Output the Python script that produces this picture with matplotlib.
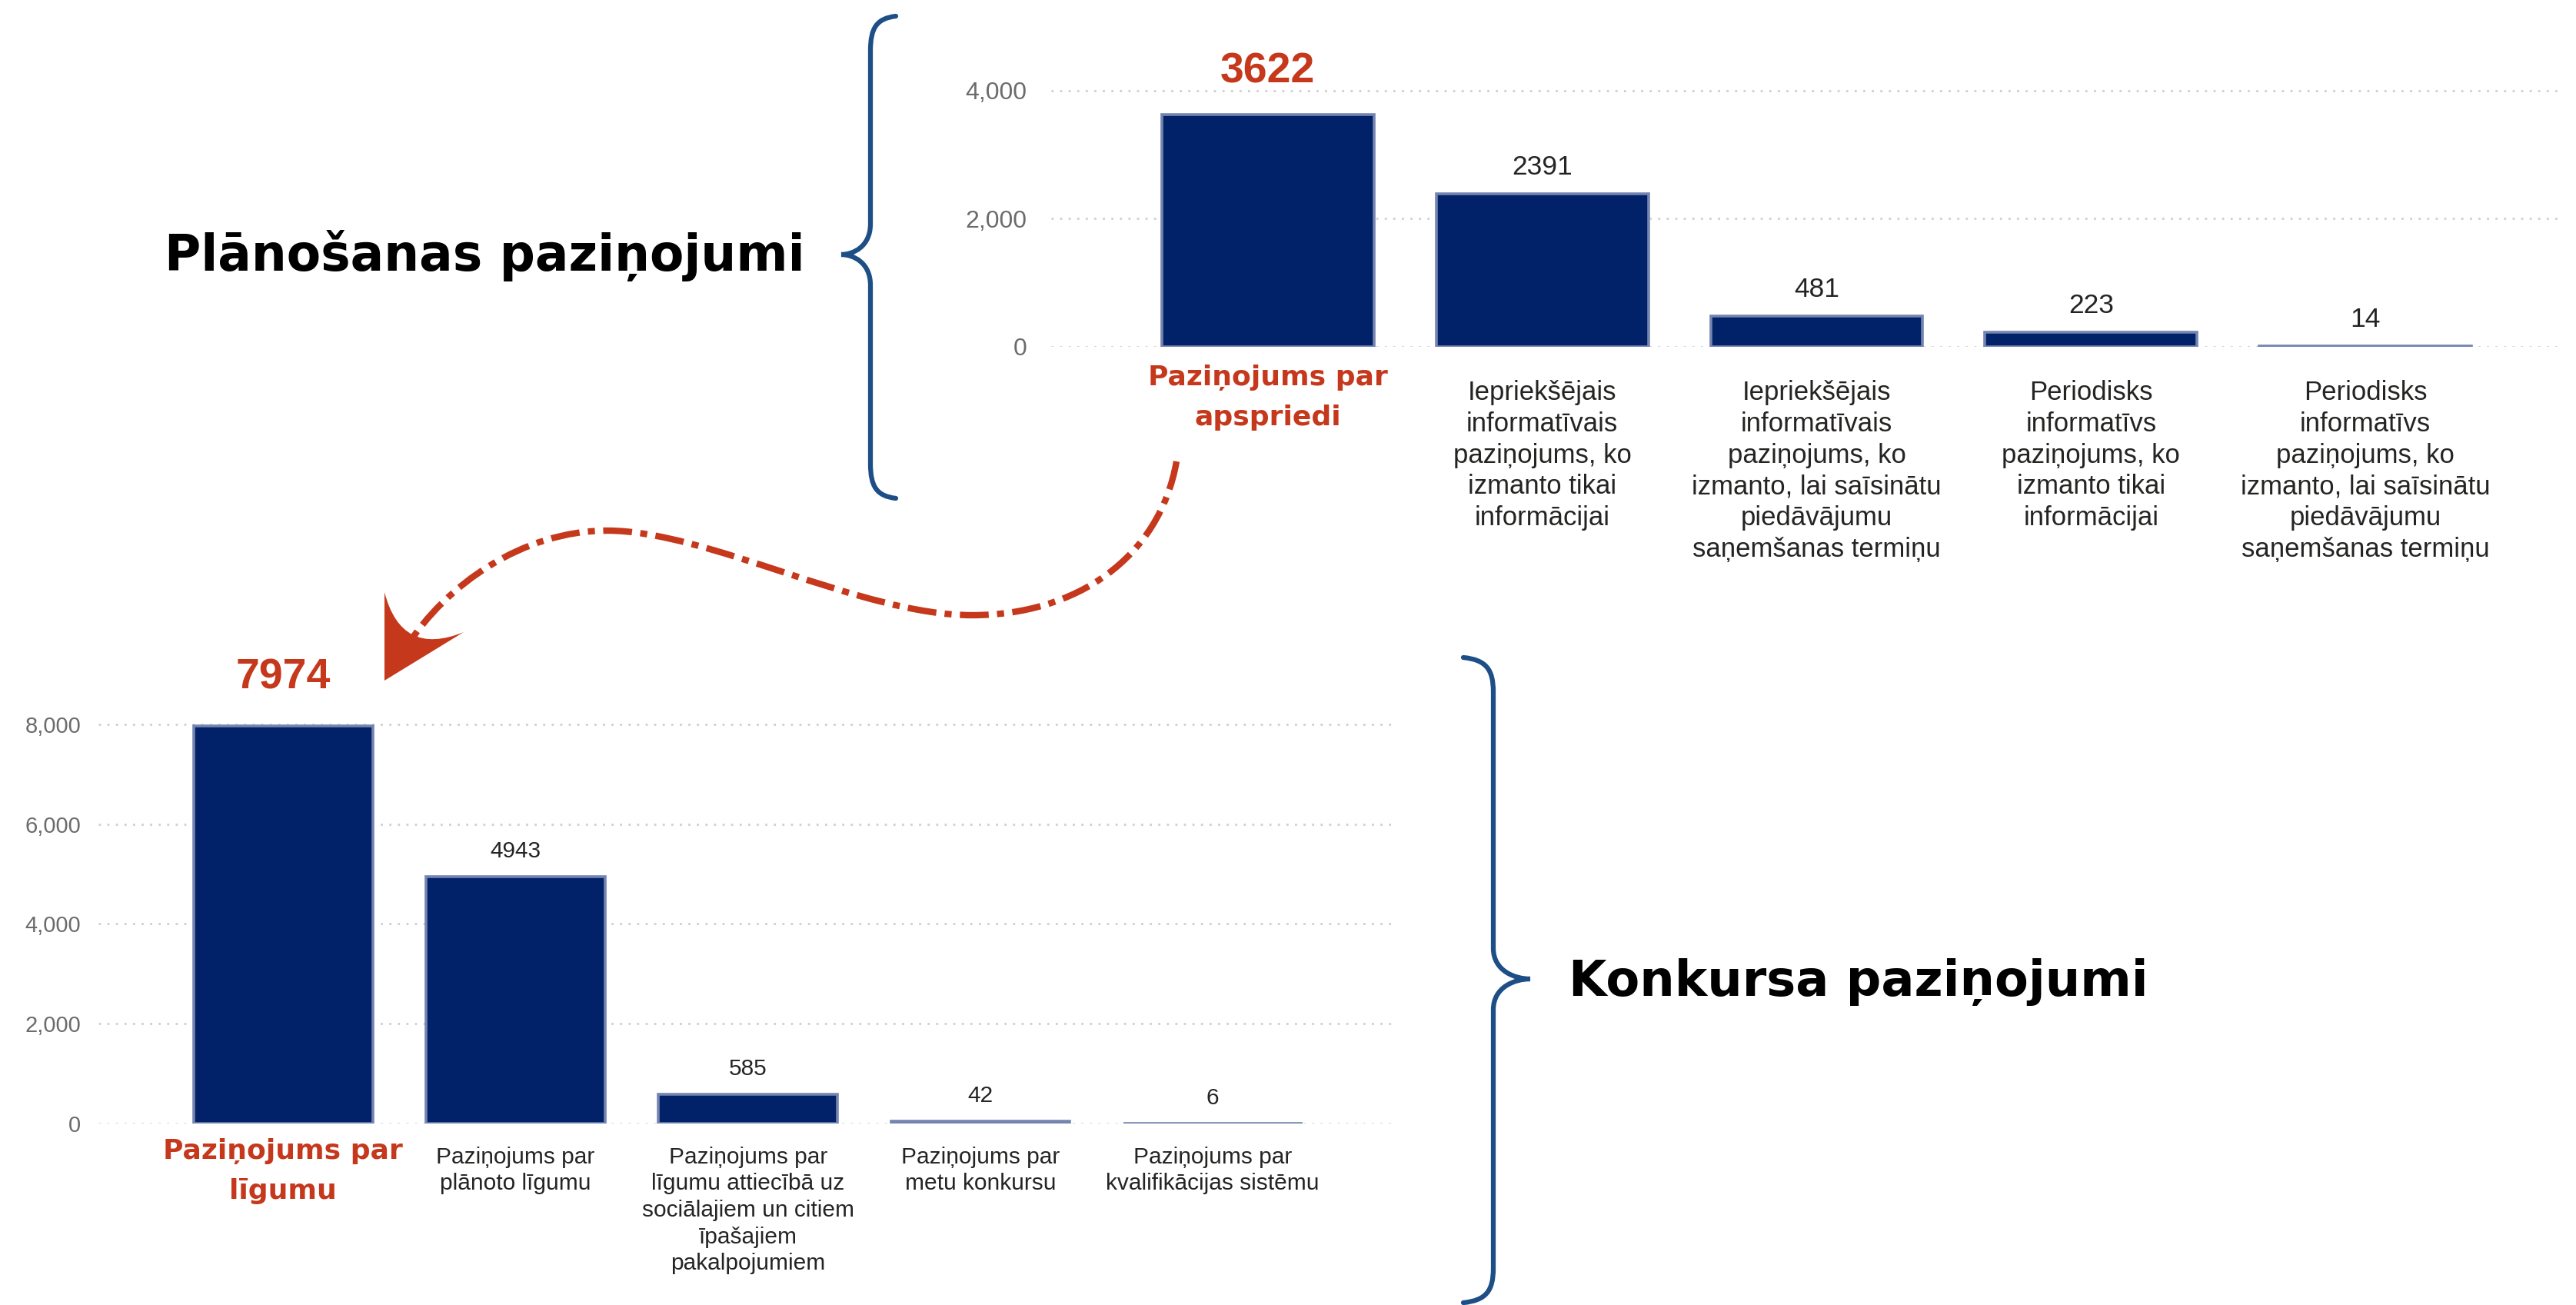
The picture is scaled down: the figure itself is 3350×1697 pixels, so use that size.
"""
Paziņojumu skaits pa veidiem: plānošanas un konkursa paziņojumi,
ar iekavām, virsrakstiem un bultu starp abiem izceltajiem stabiņiem.
"""

import matplotlib
matplotlib.use("Agg")
import matplotlib.pyplot as plt
import matplotlib.ticker as ticker
from matplotlib.path import Path
from matplotlib.patches import PathPatch
from matplotlib.transforms import Affine2D

# ── Dati ──────────────────────────────────────────────────────────────────────

plan_labels = [
    "Paziņojums par\napspriedi",
    "Iepriekšējais\ninformatīvais\npaziņojums, ko\nizmanto tikai\ninformācijai",
    "Iepriekšējais\ninformatīvais\npaziņojums, ko\nizmanto, lai saīsinātu\npiedāvājumu\nsaņemšanas termiņu",
    "Periodisks\ninformatīvs\npaziņojums, ko\nizmanto tikai\ninformācijai",
    "Periodisks\ninformatīvs\npaziņojums, ko\nizmanto, lai saīsinātu\npiedāvājumu\nsaņemšanas termiņu",
]
plan_values = [3622, 2391, 481, 223, 14]
plan_yticks = [0, 2000, 4000]

konk_labels = [
    "Paziņojums par\nlīgumu",
    "Paziņojums par\nplānoto līgumu",
    "Paziņojums par\nlīgumu attiecībā uz\nsociālajiem un citiem\nīpašajiem\npakalpojumiem",
    "Paziņojums par\nmetu konkursu",
    "Paziņojums par\nkvalifikācijas sistēmu",
]
konk_values = [7974, 4943, 585, 42, 6]
konk_yticks = [0, 2000, 4000, 6000, 8000]

title_plan = "Plānošanas paziņojumi"
title_konk = "Konkursa paziņojumi"

# ── Stils ─────────────────────────────────────────────────────────────────────

W, H, DPI = 3350, 1697, 100
NAVY    = "#012169"
EDGE    = "#7485b0"
RED     = "#c5381c"
BRACE   = "#1d4f86"
GRID    = "#cfcfcf"
TICKCOL = "#6b6b6b"
TEXTCOL = "#252423"
BODY    = "Liberation Sans"
HEAD    = "DejaVu Sans"

plt.rcParams.update({"font.family": BODY})

fig = plt.figure(figsize=(W / DPI, H / DPI), dpi=DPI)
fig.patch.set_facecolor("white")

# pikseļu koordinātas ar sākumu augšējā kreisajā stūrī
PX = Affine2D().scale(1 / W, -1 / H).translate(0, 1) + fig.transFigure


def px_axes(left, right, y0, y_top):
    return fig.add_axes([left / W, 1 - y0 / H, (right - left) / W, (y0 - y_top) / H])


def bar_chart(ax, labels, values, yticks, ymax, xlim, width,
              tick_fs, val_fs, cat_fs, ypad, xpad, big_off, red_off):
    x = list(range(len(values)))
    for y in yticks:
        ax.axhline(y, color=GRID, lw=2, ls=(0, (1, 3)), zorder=0)
    ax.bar(x, values, width=width, color=NAVY, edgecolor=EDGE, linewidth=2.6, zorder=2)

    ax.set_xlim(*xlim)
    ax.set_ylim(0, ymax)
    ax.set_yticks(yticks)
    ax.yaxis.set_major_formatter(ticker.FuncFormatter(lambda v, _: f"{v:,.0f}"))
    ax.tick_params(axis="y", length=0, pad=ypad, labelsize=tick_fs, labelcolor=TICKCOL)
    ax.set_xticks(x)
    ax.set_xticklabels([""] + labels[1:], fontsize=cat_fs, color=TEXTCOL, linespacing=1.3)
    ax.tick_params(axis="x", length=0, pad=xpad)
    for s in ax.spines.values():
        s.set_visible(False)

    # vērtības virs stabiņiem
    for xi, v in zip(x[1:], values[1:]):
        ax.annotate(f"{v}", (xi, v), xytext=(0, 18), textcoords="offset points",
                    ha="center", va="baseline", fontsize=val_fs, color=TEXTCOL)

    # izceltais pirmais stabiņš
    ax.annotate(f"{values[0]}", (0, values[0]), xytext=(0, big_off),
                textcoords="offset points", ha="center", va="baseline",
                fontsize=40, fontweight="bold", color=RED, annotation_clip=False)
    ax.annotate(labels[0], (0, 0), xytext=(0, -red_off), textcoords="offset points",
                ha="center", va="center", fontsize=26, fontweight="bold",
                family=HEAD, color=RED, linespacing=1.65, annotation_clip=False)


ax1 = px_axes(1367, 3333, 451, 101)
bar_chart(ax1, plan_labels, plan_values, plan_yticks, 4200, (-0.79, 4.72), 0.773,
          tick_fs=23, val_fs=25.5, cat_fs=25, ypad=23, xpad=31, big_off=30, red_off=47.5)

ax2 = px_axes(128, 1816, 1461, 916)
bar_chart(ax2, konk_labels, konk_values, konk_yticks, 8400, (-0.795, 4.79), 0.77,
          tick_fs=21, val_fs=21.5, cat_fs=21.5, ypad=16.5, xpad=21.5, big_off=35, red_off=44.6)

# ── Virsraksti ────────────────────────────────────────────────────────────────

fig.text(214, 352, title_plan, transform=PX, family=HEAD, fontweight="bold",
         fontsize=46.5, ha="left", va="baseline", color="black")
fig.text(2040, 1295, title_konk, transform=PX, family=HEAD, fontweight="bold",
         fontsize=46, ha="left", va="baseline", color="black")

# ── Figūriekavas ──────────────────────────────────────────────────────────────

def brace(x_line, x_tip, x_end, y_top, y_tip, y_bot):
    d_end = x_end - x_line
    d_tip = x_tip - x_line
    verts = [
        (x_end, y_top),
        (x_line + 0.25 * d_end, y_top + 3), (x_line, y_top + 15), (x_line, y_top + 45),
        (x_line, y_tip - 40),
        (x_line, y_tip - 10), (x_line + 0.6 * d_tip, y_tip), (x_tip, y_tip),
        (x_line + 0.6 * d_tip, y_tip), (x_line, y_tip + 10), (x_line, y_tip + 40),
        (x_line, y_bot - 45),
        (x_line, y_bot - 15), (x_line + 0.25 * d_end, y_bot - 3), (x_end, y_bot),
    ]
    codes = ([Path.MOVETO] + [Path.CURVE4] * 3 + [Path.LINETO] + [Path.CURVE4] * 6
             + [Path.LINETO] + [Path.CURVE4] * 3)
    fig.add_artist(PathPatch(Path(verts, codes), transform=PX, fill=False,
                             edgecolor=BRACE, lw=4.5, capstyle="round"))


brace(1132, 1094, 1165, 21, 331, 648)
brace(1942, 1990, 1903, 855, 1273, 1694)

# ── Bulta ─────────────────────────────────────────────────────────────────────

arrow_verts = [
    (1530, 600),
    (1508, 725), (1400, 800), (1264, 800),
    (1120, 800), (920, 690), (790, 690),
    (680, 690), (580, 760), (528, 842),
]
arrow_codes = [Path.MOVETO] + [Path.CURVE4] * 9
fig.add_artist(PathPatch(Path(arrow_verts, arrow_codes), transform=PX, fill=False,
                         edgecolor=RED, lw=6, linestyle=(0, (4.5, 1.3, 1.1, 1.3)),
                         capstyle="butt"))

head_verts = [(500, 770), (500, 885), (603, 822), (522, 855), (500, 770), (500, 770)]
head_codes = [Path.MOVETO, Path.LINETO, Path.LINETO, Path.CURVE3, Path.CURVE3, Path.CLOSEPOLY]
fig.add_artist(PathPatch(Path(head_verts, head_codes), transform=PX,
                         facecolor=RED, edgecolor="none"))

fig.savefig("out.png", dpi=DPI, facecolor="white")
